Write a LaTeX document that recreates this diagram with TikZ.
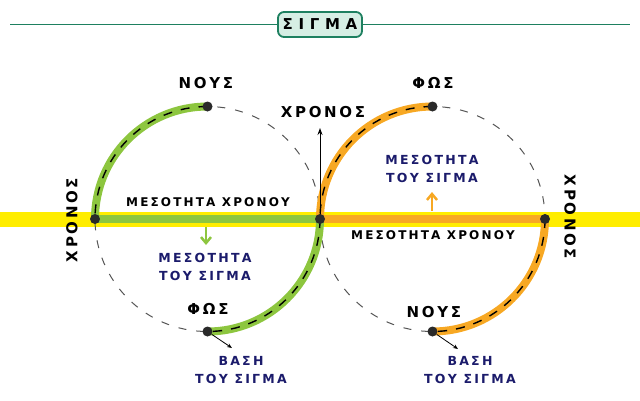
\documentclass[tikz,border=0pt]{standalone}
\usepackage{fontspec}
\setmainfont{DejaVu Sans}
\newfontfamily\gkfont[LetterSpace=18]{DejaVu Sans}
\newfontfamily\gkwide[LetterSpace=38]{DejaVu Sans}
\usetikzlibrary{arrows.meta}
\definecolor{tgreen}{HTML}{8DC63F}
\definecolor{torange}{HTML}{F7A823}
\definecolor{tyellow}{HTML}{FFED00}
\definecolor{tteal}{HTML}{1E8060}
\definecolor{tmint}{HTML}{D6EEE4}
\definecolor{tnavy}{HTML}{1B1B6B}
\definecolor{tdot}{HTML}{2A2A2A}
\definecolor{tgray}{HTML}{555555}
\begin{document}
\begin{tikzpicture}[x=1pt,y=-1pt,
  dotnode/.style={circle,fill=tdot,inner sep=0pt,minimum size=10pt},
  biglabel/.style={font=\gkfont\bfseries\fontsize{15}{17}\selectfont,text=black,inner sep=0pt},
  midlabel/.style={font=\gkfont\bfseries\fontsize{12}{14}\selectfont,text=black,inner sep=0pt},
  navylabel/.style={font=\gkfont\bfseries\fontsize{12.5}{18}\selectfont,text=tnavy,align=center,inner sep=0pt},
  guide/.style={tgray,line width=1pt,dash pattern=on 8pt off 10pt},
  band/.style={line width=8pt},
  centerdash/.style={black,line width=1.4pt,dash pattern=on 9pt off 9pt},
  titlebox/.style={draw=tteal,line width=1.8pt,fill=tmint,rounded corners=6pt,minimum width=84pt,minimum height=25pt,inner sep=0pt,font=\gkwide\bfseries\fontsize{15}{17}\selectfont}
]
\useasboundingbox (0,0) rectangle (640,400);
% title
\node[titlebox] (title) at (320,24.5) {ΣΙΓΜΑ};
\coordinate (tl) at (10,24.5);
\coordinate (tr) at (630,24.5);
\draw[tteal,line width=1.5pt] (tl) -- (title.west);
\draw[tteal,line width=1.5pt] (title.east) -- (tr);
% yellow band
\fill[tyellow] (0,211.5) rectangle (640,226.5);
% guide circles
\coordinate (c1) at (207.5,219);
\coordinate (c2) at (432.5,219);
\draw[guide] (c1) circle[radius=112.5];
\draw[guide] (c2) circle[radius=112.5];
% dots (positions)
\coordinate (L) at (95,219);
\coordinate (C) at (320,219);
\coordinate (R) at (545,219);
\coordinate (T1) at (207.5,106.5);
\coordinate (B1) at (207.5,331.5);
\coordinate (T2) at (432.5,106.5);
\coordinate (B2) at (432.5,331.5);
% bars
\draw[tgreen,band] (L) -- (C);
\draw[torange,band] (C) -- (R);
% arcs
\draw[tgreen,band] (T1) arc[start angle=-90,end angle=-180,radius=112.5];
\draw[tgreen,band] (C) arc[start angle=0,end angle=90,radius=112.5];
\draw[torange,band] (T2) arc[start angle=-90,end angle=-180,radius=112.5];
\draw[torange,band] (R) arc[start angle=0,end angle=90,radius=112.5];
\draw[centerdash] (T1) arc[start angle=-90,end angle=-180,radius=112.5];
\draw[centerdash] (C) arc[start angle=0,end angle=90,radius=112.5];
\draw[centerdash] (T2) arc[start angle=-90,end angle=-180,radius=112.5];
\draw[centerdash] (R) arc[start angle=0,end angle=90,radius=112.5];
% up arrow
\coordinate (uptip) at (320,128);
\draw[black,line width=1pt,-{Stealth[length=7pt,width=5pt]}] (C) -- (uptip);
% dots
\node[dotnode] (dL) at (L) {};
\node[dotnode] (dC) at (C) {};
\node[dotnode] (dR) at (R) {};
\node[dotnode] (dT1) at (T1) {};
\node[dotnode] (dB1) at (B1) {};
\node[dotnode] (dT2) at (T2) {};
\node[dotnode] (dB2) at (B2) {};
% green / orange arrows
\coordinate (ga0) at (206,227);
\coordinate (ga1) at (206,245);
\draw[tgreen,line width=2.5pt,-{Straight Barb[length=6pt,width=10pt]}] (ga0) -- (ga1);
\coordinate (oa0) at (432,211);
\coordinate (oa1) at (432,192);
\draw[torange,line width=2.5pt,-{Straight Barb[length=6pt,width=10pt]}] (oa0) -- (oa1);
% small arrows to base labels
\coordinate (sa1) at (232,348);
\coordinate (sa2) at (458,349);
\draw[black,line width=0.8pt,-{Stealth[length=5pt,width=4pt]}] (dB1) -- (sa1);
\draw[black,line width=0.8pt,-{Stealth[length=5pt,width=4pt]}] (dB2) -- (sa2);
% labels
\node[biglabel] (n1) at (206,83) {ΝΟΥΣ};
\node[biglabel] (f1) at (433,83) {ΦΩΣ};
\node[biglabel] (xr) at (323,112) {ΧΡΟΝΟΣ};
\node[biglabel,rotate=90] (xl) at (72,220) {ΧΡΟΝΟΣ};
\node[biglabel,rotate=-90] (xrr) at (570,217) {ΧΡΟΝΟΣ};
\node[biglabel] (f2) at (208,309) {ΦΩΣ};
\node[biglabel] (n2) at (434,312) {ΝΟΥΣ};
\node[midlabel] (m1) at (208,202) {ΜΕΣΟΤΗΤΑ ΧΡΟΝΟΥ};
\node[midlabel] (m2) at (433,235) {ΜΕΣΟΤΗΤΑ ΧΡΟΝΟΥ};
\node[navylabel] (s1) at (205,267) {ΜΕΣΟΤΗΤΑ\\ΤΟΥ ΣΙΓΜΑ};
\node[navylabel] (s2) at (432,169) {ΜΕΣΟΤΗΤΑ\\ΤΟΥ ΣΙΓΜΑ};
\node[navylabel] (b1) at (241,370) {ΒΑΣΗ\\ΤΟΥ ΣΙΓΜΑ};
\node[navylabel] (b2) at (470,370) {ΒΑΣΗ\\ΤΟΥ ΣΙΓΜΑ};
\end{tikzpicture}
\end{document}
